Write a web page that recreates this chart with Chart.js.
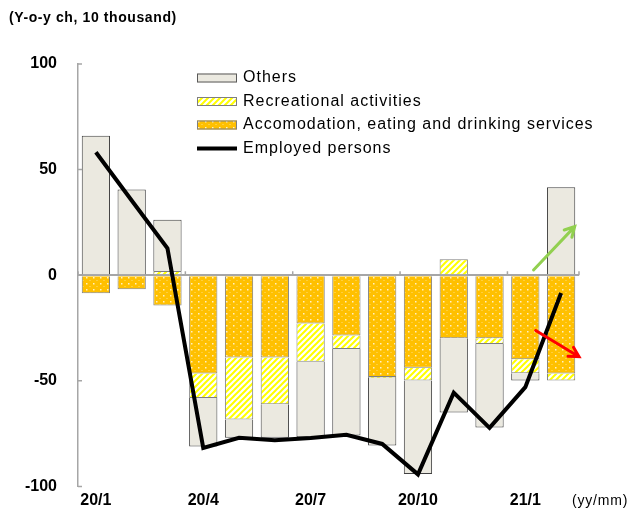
<!DOCTYPE html>
<html>
<head>
<meta charset="utf-8">
<script src="https://cdn.jsdelivr.net/npm/chart.js@4/dist/chart.umd.min.js"></script>
<style>
  html, body { margin: 0; padding: 0; background: #fff; overflow: hidden; }
  #wrap { width: 635px; height: 517px; position: relative; }
</style>
</head>
<body>
<div id="wrap"><canvas id="chart" width="635" height="517"></canvas></div>
<script>
// months (yy/mm)
const months = ['20/1', '20/2', '20/3', '20/4', '20/5', '20/6', '20/7', '20/8', '20/9', '20/10', '20/11', '20/12', '21/1', '21/2'];

// y-o-y change, 10 thousand persons
const accommodation = [-8.5, -6.7, -14.3, -46.5, -39.0, -39.0, -22.9, -28.6, -48.2, -43.8, -29.8, -29.8, -39.8, -46.6];
const recreational = [0, 0, 2.0, -11.6, -29.3, -22.1, -18.1, -6.3, -0.5, -6.0, 7.6, -2.8, -6.6, -3.2];
const others = [66.0, 40.6, 24.2, -23.0, -8.7, -15.9, -35.7, -41.0, -31.9, -44.3, -35.2, -39.5, -3.4, 41.6];
const employed = [58.2, 35.4, 12.7, -81.8, -77.0, -78.2, -77.1, -75.6, -79.9, -94.3, -55.6, -72.3, -53.0, -8.4];

const yTicks = [100, 50, 0, -50, -100];
const shownLabels = ['20/1', '20/4', '20/7', '20/10', '21/1'];

// arrows: [fromIndex, fromValue, toIndex, toValue]
const upArrow = [12.23, 2.5, 13.38, 23];
const downArrow = [12.29, -26.2, 13.5, -38.6];

const FONT = '"Liberation Sans", Arial, sans-serif';

function dotPattern() {
  const c = document.createElement('canvas');
  c.width = 7; c.height = 6;
  const g = c.getContext('2d');
  g.fillStyle = '#FFC000';
  g.fillRect(0, 0, 7, 6);
  g.fillStyle = 'rgba(255,245,220,0.9)';
  g.fillRect(2, 1, 1.5, 1.5);
  g.fillStyle = 'rgba(255,240,200,0.6)';
  g.fillRect(5.5, 4, 1, 1);
  return g.createPattern(c, 'repeat');
}

function hatchPattern() {
  const c = document.createElement('canvas');
  c.width = 6; c.height = 6;
  const g = c.getContext('2d');
  g.fillStyle = '#ffffff';
  g.fillRect(0, 0, 6, 6);
  g.strokeStyle = '#FFFF00';
  g.lineWidth = 2;
  g.beginPath();
  g.moveTo(-1, 7); g.lineTo(7, -1);
  g.moveTo(-4, 4); g.lineTo(4, -4);
  g.moveTo(2, 10); g.lineTo(10, 2);
  g.stroke();
  return g.createPattern(c, 'repeat');
}

const orangeFill = dotPattern();
const yellowFill = hatchPattern();

function drawArrow(ctx, x0, y0, x1, y1, color) {
  const a = Math.atan2(y1 - y0, x1 - x0);
  const h = 11;
  ctx.save();
  ctx.strokeStyle = color;
  ctx.lineWidth = 3;
  ctx.lineCap = 'round';
  ctx.beginPath();
  ctx.moveTo(x0, y0);
  ctx.lineTo(x1, y1);
  ctx.moveTo(x1 - h * Math.cos(a - 0.5), y1 - h * Math.sin(a - 0.5));
  ctx.lineTo(x1, y1);
  ctx.lineTo(x1 - h * Math.cos(a + 0.5), y1 - h * Math.sin(a + 0.5));
  ctx.stroke();
  ctx.restore();
}

const extras = {
  id: 'extras',
  afterDraw(chart) {
    const ctx = chart.ctx;
    const xs = chart.scales.x, ys = chart.scales.y;
    const area = chart.chartArea;
    ctx.save();

    // axis texts
    ctx.fillStyle = '#000';
    ctx.textBaseline = 'middle';
    ctx.textAlign = 'left';
    ctx.letterSpacing = '0.6px';
    ctx.font = 'bold 14px ' + FONT;
    ctx.fillText('(Y-o-y ch, 10 thousand)', 9, 18);
    ctx.letterSpacing = '0.8px';
    ctx.font = '14px ' + FONT;
    ctx.fillText('(yy/mm)', 572, 501);

    // small tick marks
    ctx.letterSpacing = '0px';
    ctx.strokeStyle = '#A6A6A6';
    ctx.lineWidth = 1.5;
    const step = xs.getPixelForValue(1) - xs.getPixelForValue(0);
    const y0 = ys.getPixelForValue(0);
    ctx.beginPath();
    for (let i = 0; i < months.length; i += 3) {
      const x = xs.getPixelForValue(i) - step / 2;
      ctx.moveTo(x, y0); ctx.lineTo(x, y0 - 4);
    }
    const xe = xs.getPixelForValue(months.length - 1) + step / 2;
    ctx.moveTo(xe, y0); ctx.lineTo(xe, y0 - 4);
    yTicks.forEach(v => {
      const y = ys.getPixelForValue(v);
      ctx.moveTo(area.left, y); ctx.lineTo(area.left + 4, y);
    });
    ctx.stroke();

    // arrows
    drawArrow(ctx, xs.getPixelForValue(upArrow[0]), ys.getPixelForValue(upArrow[1]),
      xs.getPixelForValue(upArrow[2]), ys.getPixelForValue(upArrow[3]), '#92D050');
    drawArrow(ctx, xs.getPixelForValue(downArrow[0]), ys.getPixelForValue(downArrow[1]),
      xs.getPixelForValue(downArrow[2]), ys.getPixelForValue(downArrow[3]), '#FF0000');

    // legend
    const items = [
      { text: chart.data.datasets[2].label, fill: '#EBE9E0', border: '#595959' },
      { text: chart.data.datasets[1].label, fill: yellowFill, border: '#7F7F7F' },
      { text: chart.data.datasets[0].label, fill: orangeFill, border: '#7F7F7F' },
      { text: chart.data.datasets[3].label, line: true }
    ];
    const lx = 197, lw = 40;
    const rows = [78, 101.5, 125, 148.5];
    ctx.font = '16px ' + FONT;
    ctx.letterSpacing = '1px';
    items.forEach((it, i) => {
      const y = rows[i];
      if (it.line) {
        ctx.strokeStyle = '#000';
        ctx.lineWidth = 4;
        ctx.beginPath();
        ctx.moveTo(lx, y); ctx.lineTo(lx + lw, y);
        ctx.stroke();
      } else {
        ctx.fillStyle = it.fill;
        ctx.fillRect(lx, y - 4.5, lw, 9);
        ctx.strokeStyle = it.border;
        ctx.lineWidth = 1;
        ctx.strokeRect(lx + 0.5, y - 4, lw - 1, 8);
      }
      ctx.fillStyle = '#000';
      ctx.textAlign = 'left';
      ctx.fillText(it.text, lx + 46, y);
    });
    ctx.restore();
  }
};

const barCommon = {
  type: 'bar',
  stack: 'jobs',
  borderWidth: 1,
  barPercentage: 0.79,
  categoryPercentage: 1,
  order: 2
};

new Chart(document.getElementById('chart').getContext('2d'), {
  data: {
    labels: months,
    datasets: [
      Object.assign({}, barCommon, {
        label: 'Accomodation, eating and drinking services',
        data: accommodation,
        backgroundColor: orangeFill,
        borderColor: '#7F7F7F'
      }),
      Object.assign({}, barCommon, {
        label: 'Recreational activities',
        data: recreational,
        backgroundColor: yellowFill,
        borderColor: '#7F7F7F'
      }),
      Object.assign({}, barCommon, {
        label: 'Others',
        data: others,
        backgroundColor: '#EBE9E0',
        borderColor: '#404040'
      }),
      {
        type: 'line',
        label: 'Employed persons',
        data: employed,
        stack: 'line',
        borderColor: '#000000',
        borderWidth: 4,
        pointRadius: 0,
        tension: 0,
        fill: false,
        order: 1
      }
    ]
  },
  options: {
    responsive: false,
    animation: false,
    layout: { padding: { top: 64, right: 56, bottom: 0, left: 0 } },
    plugins: {
      legend: { display: false },
      tooltip: { enabled: false }
    },
    scales: {
      x: {
        stacked: true,
        offset: true,
        grid: { display: false, drawTicks: false },
        border: { display: false },
        ticks: {
          autoSkip: false,
          maxRotation: 0,
          padding: 5,
          color: '#000',
          font: { family: FONT, size: 16, weight: 'bold' },
          callback: function (v) {
            const l = this.getLabelForValue(v);
            return shownLabels.includes(l) ? l : '';
          }
        },
        afterFit: s => { s.height = 24; }
      },
      y: {
        stacked: true,
        min: -100,
        max: 100,
        grid: {
          drawTicks: false,
          lineWidth: 2,
          color: c => (c.tick && c.tick.value === 0 ? '#A6A6A6' : 'rgba(0,0,0,0)')
        },
        border: { display: true, color: '#A6A6A6', width: 1.5 },
        ticks: {
          stepSize: 50,
          padding: 21,
          color: '#000',
          font: { family: FONT, size: 16, weight: 'bold' }
        },
        afterFit: s => { s.width = 78; }
      }
    }
  },
  plugins: [extras]
});
</script>
</body>
</html>
